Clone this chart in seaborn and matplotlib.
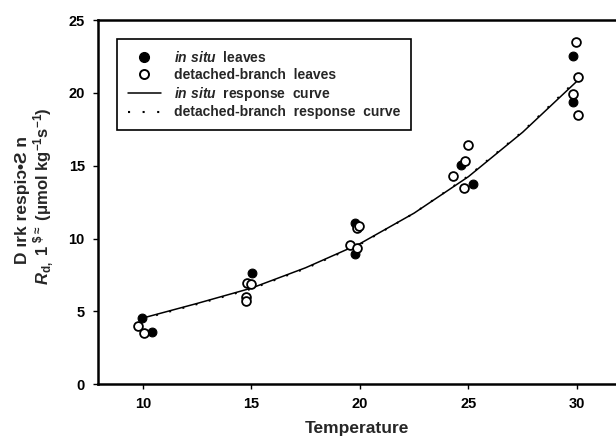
import numpy as np
import pandas as pd
import matplotlib
matplotlib.use("Agg")
import matplotlib.pyplot as plt
import seaborn as sns
from matplotlib.lines import Line2D

# ── data ──────────────────────────────────────
insitu_temp = [9.94, 10.4, 15.01, 19.76, 19.78, 24.68, 25.22, 29.82, 29.82]
insitu_rd   = [4.57, 3.57, 7.62, 11.07, 8.97, 15.06, 13.75, 22.5, 19.4]

detached_temp = [9.78, 10.06, 14.78, 15.0, 14.75, 14.75, 19.54, 19.88, 19.85,
                 19.95, 24.3, 24.84, 24.99, 24.8, 29.95, 30.06, 29.83, 30.06]
detached_rd   = [4.0, 3.54, 6.93, 6.88, 6.01, 5.74, 9.54, 9.38, 10.7,
                 10.85, 14.3, 15.33, 16.42, 13.45, 23.51, 21.07, 19.9, 18.48]

curve_temp     = [10, 12.5, 15, 17.5, 20, 22.5, 25, 27.5, 30]
insitu_curve   = [4.55, 5.55, 6.6, 8.0, 9.65, 11.75, 14.25, 17.3, 20.8]
detached_curve = [4.5, 5.5, 6.55, 7.95, 9.6, 11.75, 14.3, 17.35, 20.9]

x_ticks = [10, 15, 20, 25, 30]
y_ticks = [0, 5, 10, 15, 20, 25]

legend_labels = [r"$\mathit{in\ situ}$  leaves",
                 "detached-branch  leaves",
                 r"$\mathit{in\ situ}$  response  curve",
                 "detached-branch  response  curve"]

# ── style ─────────────────────────────────────
sns.set_style("ticks")
plt.rcParams["font.family"] = ["Liberation Sans", "DejaVu Sans"]
plt.rcParams["font.weight"] = "bold"
plt.rcParams["mathtext.fontset"] = "custom"
plt.rcParams["mathtext.rm"] = "Liberation Sans:bold"
plt.rcParams["mathtext.it"] = "Liberation Sans:italic:bold"
plt.rcParams["mathtext.bf"] = "Liberation Sans:bold"
plt.rcParams["mathtext.sf"] = "Liberation Sans"

fig = plt.figure(figsize=(6.16, 4.4), dpi=100)
ax = fig.add_axes([98 / 616, 1 - 384.3 / 440, (616 - 98) / 616, 364.3 / 440])

pts_in = pd.DataFrame({"temp": insitu_temp, "rd": insitu_rd})
pts_de = pd.DataFrame({"temp": detached_temp, "rd": detached_rd})
curves = pd.DataFrame({"temp": curve_temp, "insitu": insitu_curve,
                       "detached": detached_curve})

sns.lineplot(data=curves, x="temp", y="insitu", color="black", lw=1.1,
             ax=ax, zorder=2)
sns.lineplot(data=curves, x="temp", y="detached", color="black", lw=1.4,
             linestyle=(0, (1, 6)), ax=ax, zorder=2)
sns.scatterplot(data=pts_in, x="temp", y="rd", color="black", s=40,
                edgecolor="black", linewidth=0.8, ax=ax, zorder=3)
sns.scatterplot(data=pts_de, x="temp", y="rd", color="white", s=40,
                edgecolor="black", linewidth=1.3, ax=ax, zorder=4)

ax.set_xlim(7.93, 31.8)
ax.set_ylim(0, 25)
ax.set_xticks(x_ticks)
ax.set_yticks(y_ticks)
ax.tick_params(direction="out", length=3.5, width=1, labelsize=10.5,
               colors="black", pad=6)
for lab in ax.get_xticklabels() + ax.get_yticklabels():
    lab.set_fontweight("bold")
for side in ["left", "bottom", "top"]:
    ax.spines[side].set_linewidth(1.8)
    ax.spines[side].set_color("black")
ax.spines["right"].set_visible(False)

ax.set_xlabel("Temperature", fontsize=12.5, fontweight="bold", labelpad=7)
ax.set_ylabel("")

# two-line y label (text as printed in the source scan)
ax.text(-0.1448, 0.506, "D ırk respiↄ•Ƨ n", transform=ax.transAxes,
        rotation=90, ha="center", va="center", fontsize=12.5,
        fontweight="bold")
ax.text(-0.104, 0.5155,
        r"$\mathit{R}_{\mathrm{d,}}\ \mathsf{1}^{\ \$\approx}$ (μmol kg$^{-1}$s$^{-1}$)",
        transform=ax.transAxes, rotation=90, ha="center", va="center",
        fontsize=12, fontweight="bold")

handles = [
    Line2D([], [], marker="o", color="black", ls="none", markersize=7),
    Line2D([], [], marker="o", markerfacecolor="white", markeredgecolor="black",
           markeredgewidth=1.4, ls="none", markersize=6.5),
    Line2D([], [], color="black", lw=1.1),
    Line2D([], [], color="black", lw=1.5, linestyle=(0, (1, 6))),
]
leg = ax.legend(handles, legend_labels, loc="upper left",
                bbox_to_anchor=(0.036, 0.948), borderaxespad=0,
                frameon=True, fancybox=False, edgecolor="black",
                fontsize=10, handlelength=2.4, handletextpad=0.9,
                labelspacing=0.2, borderpad=0.8)
leg.get_frame().set_linewidth(1.2)
leg.get_frame().set_alpha(1)
for t in leg.get_texts():
    t.set_fontweight("bold")

fig.savefig("out.png", dpi=100)
